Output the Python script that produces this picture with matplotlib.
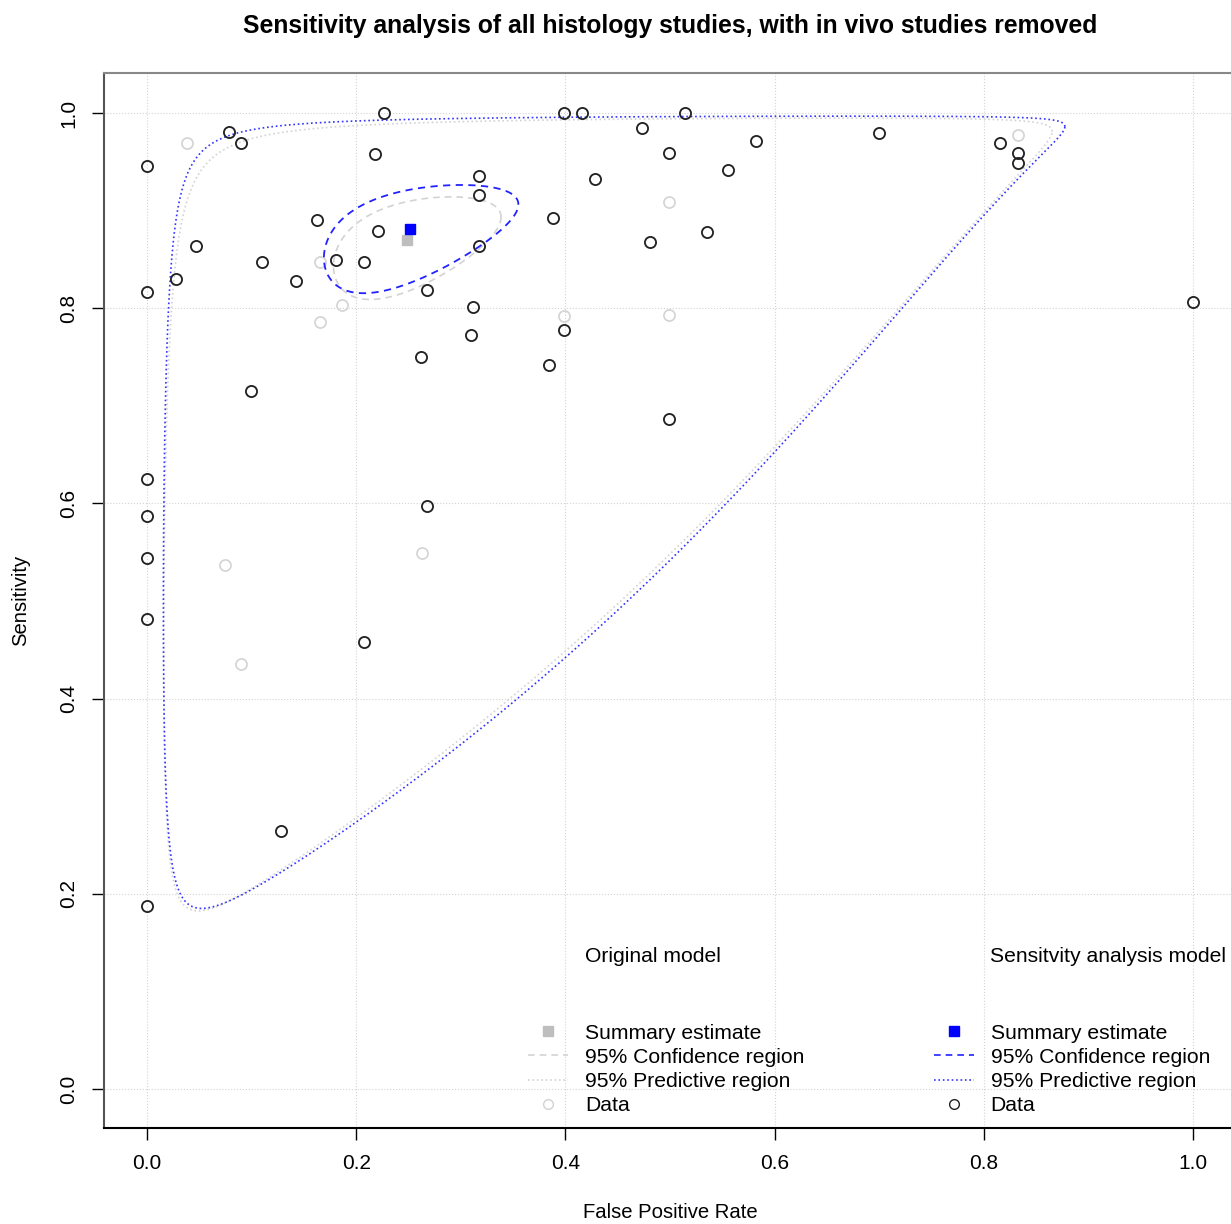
import numpy as np
import matplotlib
matplotlib.use("Agg")
import matplotlib.pyplot as plt
from matplotlib.lines import Line2D

plt.rcParams['font.family'] = ['Liberation Sans', 'DejaVu Sans']

# Studies kept in the sensitivity analysis (false positive rate, sensitivity)
fpr_kept = [0.227, 0.078, 0.090, 0.0, 0.218, 0.317, 0.317, 0.1625, 0.2205, 0.047,
            0.317, 0.110, 0.181, 0.2075, 0.142, 0.0274, 0.0, 0.268, 0.312, 0.3098,
            0.262, 0.0994, 0.399, 0.416, 0.514, 0.473, 0.5825, 0.4994, 0.555, 0.428,
            0.388, 0.535, 0.4805, 0.399, 0.384, 0.4994, 0.6995, 0.8155, 0.8327, 0.8327,
            1.0, 0.0, 0.0, 0.0, 0.0, 0.0, 0.2677, 0.2075, 0.1285]
sens_kept = [1.0, 0.981, 0.969, 0.946, 0.958, 0.935, 0.916, 0.890, 0.879, 0.864,
             0.864, 0.847, 0.849, 0.847, 0.828, 0.830, 0.817, 0.819, 0.801, 0.773,
             0.750, 0.715, 1.0, 1.0, 1.0, 0.985, 0.971, 0.959, 0.942, 0.932,
             0.892, 0.878, 0.868, 0.778, 0.742, 0.686, 0.979, 0.969, 0.959, 0.949,
             0.806, 0.625, 0.5875, 0.5437, 0.4816, 0.1875, 0.597, 0.458, 0.2643]

# in vivo studies (only in the original model)
fpr_invivo = [0.038, 0.165, 0.1867, 0.1657, 0.4994, 0.399, 0.4994, 0.8327, 0.263, 0.0749, 0.0902]
sens_invivo = [0.969, 0.847, 0.803, 0.786, 0.909, 0.792, 0.793, 0.9775, 0.549, 0.537, 0.435]

fpr_orig = fpr_invivo + fpr_kept
sens_orig = sens_invivo + sens_kept

# summary estimates
summary_orig = (0.2486, 0.870)
summary_sens = (0.251, 0.881)

# regions in logit space: centre fpr, centre sens, sd fpr, sd sens, correlation
conf_orig = (-1.099, 1.9035, 0.429, 0.4605, 0.48)
pred_orig = (-1.13, 1.87, 2.99, 3.37, 0.615)
conf_sens = (-1.0945, 2.0075, 0.4975, 0.5225, 0.5)
pred_sens = (-1.086, 2.119, 3.055, 3.602, 0.593)


def expit(v):
    return 1 / (1 + np.exp(-v))


def region(params, n=800):
    mx, my, sx, sy, rho = params
    t = np.linspace(0, 2 * np.pi, n)
    lx = mx + sx * np.cos(t)
    ly = my + sy * (rho * np.cos(t) + np.sqrt(1 - rho ** 2) * np.sin(t))
    return expit(lx), expit(ly)


grey = '#bebebe'
light = '#d3d3d3'
blue_line = '#3333ff'

fig = plt.figure(figsize=(12.31, 12.24), dpi=100)
ax = fig.add_axes([0.0845, 0.0784, 0.9195, 0.862])

for v in np.arange(0, 1.01, 0.2):
    ax.axvline(v, color=light, lw=0.8, ls=':', zorder=0)
    ax.axhline(v, color=light, lw=0.8, ls=':', zorder=0)

x, y = region(pred_orig)
ax.plot(x, y, color=light, ls=':', lw=1.2)
x, y = region(conf_orig)
ax.plot(x, y, color=light, ls='--', lw=1.2, dashes=(4, 3))
ax.plot(fpr_orig, sens_orig, 'o', mfc='none', mec=light, ms=8, mew=1.2)
ax.plot(*summary_orig, 's', color=grey, ms=6.5)

x, y = region(pred_sens)
ax.plot(x, y, color=blue_line, ls=':', lw=1.2)
x, y = region(conf_sens)
ax.plot(x, y, color='#2222ff', ls='--', lw=1.3, dashes=(4, 3))
ax.plot(fpr_kept, sens_kept, 'o', mfc='none', mec='#222222', ms=8, mew=1.3)
ax.plot(*summary_sens, 's', color='blue', ms=6.5)

ax.set_xlim(-0.0411, 1.041)
ax.set_ylim(-0.04, 1.041)
ax.set_xticks(np.arange(0, 1.01, 0.2))
ax.set_yticks(np.arange(0, 1.01, 0.2))
ax.set_xticklabels(['0.0', '0.2', '0.4', '0.6', '0.8', '1.0'])
ax.set_yticklabels(['0.0', '0.2', '0.4', '0.6', '0.8', '1.0'], rotation=90, va='center')
ax.tick_params(direction='out', length=8.5, width=1, labelsize=15, pad=10)
ax.spines['top'].set_color('#888888')
ax.spines['left'].set_color('#555555')
ax.spines['right'].set_visible(False)
for s in ax.spines.values():
    s.set_linewidth(1.5)

ax.set_title('Sensitivity analysis of all histology studies, with in vivo studies removed',
             fontsize=17.8, fontweight='bold', pad=29)
ax.set_xlabel('False Positive Rate', fontsize=14.6, labelpad=22)
ax.set_ylabel('Sensitivity', fontsize=14.6, labelpad=21)

labels = ['Summary estimate', '95% Confidence region', '95% Predictive region', 'Data']
h_orig = [Line2D([], [], ls='none', marker='s', color=grey, ms=6.5),
          Line2D([], [], color=light, ls='--', lw=1.2, dashes=(4, 3)),
          Line2D([], [], color=light, ls=':', lw=1.2),
          Line2D([], [], ls='none', marker='o', mfc='none', mec=light, ms=7, mew=1)]
h_sens = [Line2D([], [], ls='none', marker='s', color='blue', ms=6.5),
          Line2D([], [], color='#2222ff', ls='--', lw=1.2, dashes=(4, 3)),
          Line2D([], [], color=blue_line, ls=':', lw=1.2),
          Line2D([], [], ls='none', marker='o', mfc='none', mec='#222222', ms=7, mew=1)]

leg_kw = dict(loc='lower left', frameon=False, fontsize=15.2, borderpad=0, borderaxespad=0,
              handlelength=1.9, handletextpad=0.8, labelspacing=0.25)
leg1 = ax.legend(h_orig, labels, bbox_to_anchor=(0.3746, 0.012), **leg_kw)
ax.add_artist(leg1)
ax.legend(h_sens, labels, bbox_to_anchor=(0.733, 0.012), **leg_kw)

ax.text(0.4249, 0.163, 'Original model', transform=ax.transAxes, fontsize=15.2, va='center')
ax.text(0.7827, 0.163, 'Sensitvity analysis model', transform=ax.transAxes, fontsize=15.2, va='center')

fig.savefig('out.png', dpi=100)
